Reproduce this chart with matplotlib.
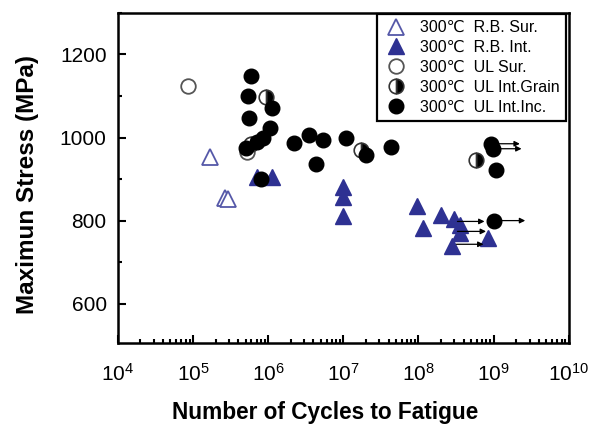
import matplotlib
matplotlib.use("Agg")
import matplotlib.pyplot as plt
from matplotlib.ticker import MultipleLocator, LogLocator, NullFormatter

plt.rcParams['font.family'] = ['Liberation Sans', 'DejaVu Sans']
plt.rcParams['mathtext.fontset'] = 'custom'
plt.rcParams['mathtext.rm'] = 'Liberation Sans'

# data (cycles, MPa)
rb_sur_N = [1.66e5, 2.7e5, 2.9e5]
rb_sur_S = [952, 855, 852]

rb_int_N = [7.2e5, 1.12e6, 1.0e7, 1.0e7, 1.0e7, 9.5e7, 1.15e8, 2.0e8,
            2.95e8, 3.55e8, 3.55e8, 2.8e8, 8.5e8]
rb_int_S = [906, 904, 882, 857, 810, 834, 781, 814, 803, 790, 770, 740, 757]

ul_sur_N = [8.7e4, 5.2e5]
ul_sur_S = [1123, 964]

ul_grain_N = [9.5e5, 6.0e5, 1.7e7, 5.8e8]
ul_grain_S = [1097, 985, 969, 947]

ul_inc_N = [5.9e5, 5.4e5, 1.12e6, 5.5e5, 1.05e6, 8.5e5, 7.2e5, 5.0e5, 8.1e5,
            2.2e6, 3.5e6, 5.4e6, 4.3e6, 1.1e7, 2.0e7, 4.3e7,
            9.3e8, 9.8e8, 1.07e9, 1.0e9]
ul_inc_S = [1147, 1099, 1072, 1048, 1022, 1000, 990, 974, 899,
            986, 1007, 993, 937, 998, 959, 976,
            985, 973, 923, 800]

# run-outs (start of arrow)
runout_N = [9.3e8, 9.8e8, 1.0e9, 3.3e8, 3.3e8, 3.2e8]
runout_S = [985, 973, 800, 798, 774, 743]
runout_len = [0.38, 0.38, 0.42, 0.36, 0.38, 0.36]  # decades

blue = '#2e3192'

fig = plt.figure(figsize=(5.95, 4.3), dpi=100)
ax = fig.add_axes([0.198, 0.202, 0.758, 0.768])

ms = 10.5
ax.plot(rb_sur_N, rb_sur_S, '^', ls='none', ms=11.5, mfc='white', mec='#5558a8',
        mew=1.3, label='300\u2103  R.B. Sur.')
ax.plot(rb_int_N, rb_int_S, '^', ls='none', ms=11.5, mfc=blue, mec=blue,
        mew=1, label='300\u2103  R.B. Int.')
ax.plot(ul_sur_N, ul_sur_S, 'o', ls='none', ms=ms, mfc='white', mec='#555555',
        mew=1.3, label='300\u2103  UL Sur.')
ax.plot(ul_grain_N, ul_grain_S, 'o', ls='none', ms=ms, mfc='black', mec='#333333',
        mew=1.2, fillstyle='right', markerfacecoloralt='white',
        label='300\u2103  UL Int.Grain')
ax.plot(ul_inc_N, ul_inc_S, 'o', ls='none', ms=ms, mfc='black', mec='black',
        label='300\u2103  UL Int.Inc.')

for n, s, d in zip(runout_N, runout_S, runout_len):
    ax.annotate('', xy=(n * 10 ** d, s), xytext=(n, s),
                arrowprops=dict(arrowstyle='-|>', color='black', lw=0.9,
                                mutation_scale=8, shrinkA=0, shrinkB=0))

ax.set_xscale('log')
ax.set_xlim(1e4, 1e10)
ax.set_ylim(505, 1300)
ax.yaxis.set_major_locator(MultipleLocator(200))
ax.yaxis.set_minor_locator(MultipleLocator(100))
ax.xaxis.set_major_locator(LogLocator(base=10, numticks=10))
ax.xaxis.set_minor_locator(LogLocator(base=10, subs=range(2, 10), numticks=20))
ax.xaxis.set_minor_formatter(NullFormatter())

ax.tick_params(which='both', direction='in', top=False, right=False,
               labelsize=15, width=1.5)
ax.tick_params(which='major', length=6)
ax.tick_params(which='minor', length=3)
ax.tick_params(axis='x', pad=14)
ax.tick_params(axis='y', pad=8)
for sp in ax.spines.values():
    sp.set_linewidth(1.8)

ax.set_xlabel('Number of Cycles to Fatigue', fontsize=16.3, fontweight='bold')
ax.xaxis.set_label_coords(0.46, -0.175)
ax.set_ylabel('Maximun Stress (MPa)', fontsize=17.5, fontweight='bold')
ax.yaxis.set_label_coords(-0.175, 0.48)

leg = ax.legend(loc='upper right', bbox_to_anchor=(0.993, 0.997),
                fontsize=11.5, frameon=True, fancybox=False,
                borderaxespad=0, handletextpad=0.65, labelspacing=0.3,
                borderpad=0.4, handlelength=1.6)
leg.get_frame().set_edgecolor('black')
leg.get_frame().set_linewidth(1.6)
leg.get_frame().set_alpha(1)

fig.savefig('out.png', dpi=100)
